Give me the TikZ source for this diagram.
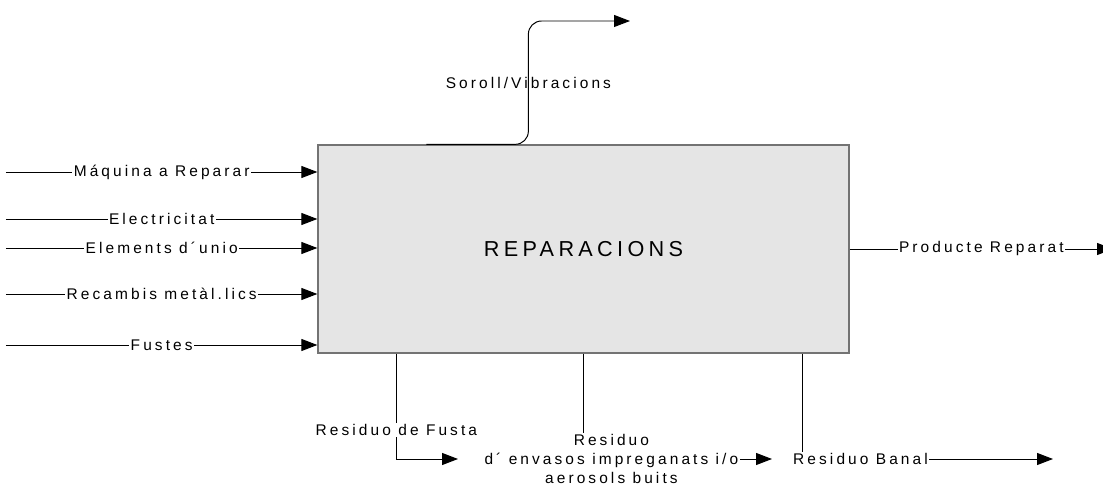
\documentclass[tikz,border=0pt]{standalone}
\usepackage{fontspec}
\usepackage{tikz}
\usetikzlibrary{positioning, arrows.meta}
\newfontfamily\diagfont[LetterSpace=20]{Liberation Sans}
\tikzstyle{procbox} = [rectangle, minimum width=13.275cm, minimum height=5.2cm, text centered, draw=black!55, line width=0.9pt, fill=gray!20, font=\diagfont\fontsize{15.4}{18}\selectfont]
\tikzstyle{arrow} = [line width=0.7pt, -{Triangle[length=0.4cm, width=0.3cm]}]
\tikzstyle{flowlbl} = [fill=white, inner sep=1pt, font=\diagfont\fontsize{11}{13.6}\selectfont]

\begin{document}
\begin{tikzpicture}
\useasboundingbox (0,0) rectangle (27.575,12.125);

\node (repar) [procbox] at (14.5875,5.9) {REPARACIONS};

\coordinate (inmaq) at (0.15,7.825);
\coordinate [below=1.175cm of inmaq] (inelec);
\coordinate [below=0.725cm of inelec] (inelem);
\coordinate [below=1.15cm of inelem] (inrec);
\coordinate [below=1.275cm of inrec] (infust);

\draw [arrow] (inmaq) -- node[flowlbl] {Máquina a Reparar} (inmaq -| repar.west);
\draw [arrow] (inelec) -- node[flowlbl] {Electricitat} (inelec -| repar.west);
\draw [arrow] (inelem) -- node[flowlbl] {Elements d´unio} (inelem -| repar.west);
\draw [arrow] (inrec) -- node[flowlbl] {Recambis metàl.lics} (inrec -| repar.west);
\draw [arrow] (infust) -- node[flowlbl] {Fustes} (infust -| repar.west);

\coordinate (soroll) at (15.75,11.6);
\draw [arrow, rounded corners=0.33cm] ([xshift=2.725cm]repar.north west) -- ++(2.55,0) |- node[pos=0.25, font=\diagfont\fontsize{11}{13.6}\selectfont] {Soroll/Vibracions} (soroll);

\coordinate (producte) at (27.825,5.9);
\draw [arrow] (repar.east) -- node[flowlbl] {Producte Reparat} (producte);

\coordinate (fusta) at (11.45,0.65);
\coordinate (envas) at (19.3,0.65);
\coordinate (banal) at (26.325,0.65);

\draw [arrow] ([xshift=1.975cm]repar.south west) |- node[flowlbl, pos=0.363] {Residuo de Fusta} (fusta);
\draw [arrow] (repar.south) |- node[flowlbl, align=center, pos=0.574] {Residuo\\d´ envasos impreganats i/o\\aerosols buits} (envas);
\draw [arrow] ([xshift=12.125cm]repar.south west) |- node[flowlbl, pos=0.616] {Residuo Banal} (banal);
\end{tikzpicture}
\end{document}
